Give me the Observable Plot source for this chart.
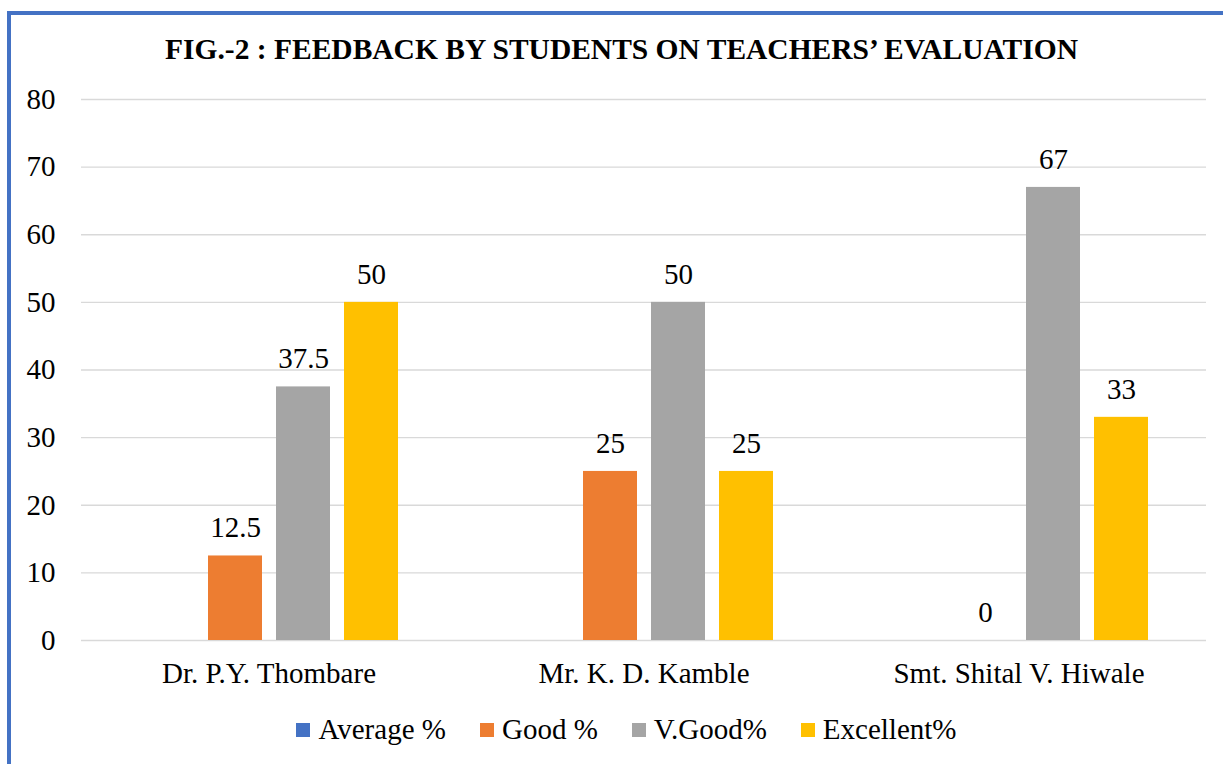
<!DOCTYPE html>
<html>
<head>
<meta charset="utf-8">
<script src="https://cdn.jsdelivr.net/npm/d3@7"></script>
<script src="https://cdn.jsdelivr.net/npm/@observablehq/plot@0.6"></script>
<style>
  html, body { margin: 0; padding: 0; background: #fff; overflow: hidden; width: 1223px; height: 764px; }
  #frame { position: absolute; left: 7px; top: 11px; width: 1300px; height: 900px;
           border-left: 4px solid #4472C4; border-top: 4px solid #4472C4; box-sizing: border-box; }
  #title { position: absolute; left: 0; width: 1243px; top: 33px; text-align: center; white-space: nowrap;
           font-family: "Liberation Serif", "Times New Roman", Times, "DejaVu Serif", serif; font-weight: bold; font-size: 29.5px; color: #000; }
  #chart { position: absolute; left: 0; top: 80px; }
  #legend { position: absolute; left: 0; width: 1253px; top: 713px; display: flex; justify-content: center;
            font-family: "Liberation Serif", "Times New Roman", Times, "DejaVu Serif", serif; font-size: 29px; color: #000; }
  .item { display: flex; align-items: center; margin: 0 17px; }
  .sw { width: 14px; height: 14px; margin-right: 8px; }
</style>
</head>
<body>
<div id="frame"></div>
<div id="title">FIG.-2 : FEEDBACK BY STUDENTS ON TEACHERS’ EVALUATION</div>
<div id="chart"></div>
<div id="legend"></div>
<script>
const teachers = ["Dr. P.Y. Thombare", "Mr. K. D. Kamble", "Smt. Shital V. Hiwale"];
const series = ["Average %", "Good %", "V.Good%", "Excellent%"];
const averageValues = [null, null, null];
const goodValues = [12.5, 25, 0];
const vgoodValues = [37.5, 50, 67];
const excellentValues = [50, 25, 33];
const colors = ["#4472C4", "#ED7D31", "#A5A5A5", "#FFC000"];
const yTicks = [0, 10, 20, 30, 40, 50, 60, 70, 80];

const valueLists = [averageValues, goodValues, vgoodValues, excellentValues];
const data = [];
teachers.forEach((t, i) => {
  series.forEach((s, j) => {
    data.push({teacher: t, series: s, value: valueLists[j][i]});
  });
});
const shown = data.filter(d => d.value != null);
const serifFont = "'Liberation Serif', 'Times New Roman', Times, 'DejaVu Serif', serif";

const chart = Plot.plot({
  width: 1223,
  height: 620,
  marginLeft: 81,
  marginRight: 17,
  marginTop: 19,
  marginBottom: 60,
  style: {fontFamily: serifFont, fontSize: "29px", color: "#000", background: "transparent"},
  fx: {domain: teachers, padding: 0, label: null},
  x: {domain: series, paddingInner: 0.206, paddingOuter: 0.86, axis: null},
  y: {domain: [0, 80], label: null},
  color: {domain: series, range: colors},
  marks: [
    Plot.ruleY(yTicks, {stroke: "#d9d9d9", strokeWidth: 1.3}),
    Plot.barY(shown, {fx: "teacher", x: "series", y: "value", fill: "series"}),
    Plot.text(shown, {fx: "teacher", x: "series", y: "value", text: d => String(d.value), dy: -28, fill: "#000", fontSize: 29, fontFamily: serifFont}),
    Plot.axisY(yTicks, {tickSize: 0, tickPadding: 26, fontSize: 29, fontFamily: serifFont, label: null}),
    Plot.axisFx({anchor: "bottom", tickSize: 0, tickPadding: 22, fontSize: 29, fontFamily: serifFont, label: null})
  ]
});
document.getElementById("chart").appendChild(chart);

const legend = document.getElementById("legend");
series.forEach((s, j) => {
  const item = document.createElement("div");
  item.className = "item";
  const sw = document.createElement("div");
  sw.className = "sw";
  sw.style.background = colors[j];
  const lab = document.createElement("span");
  lab.textContent = s;
  item.appendChild(sw);
  item.appendChild(lab);
  legend.appendChild(item);
});
</script>
</body>
</html>
